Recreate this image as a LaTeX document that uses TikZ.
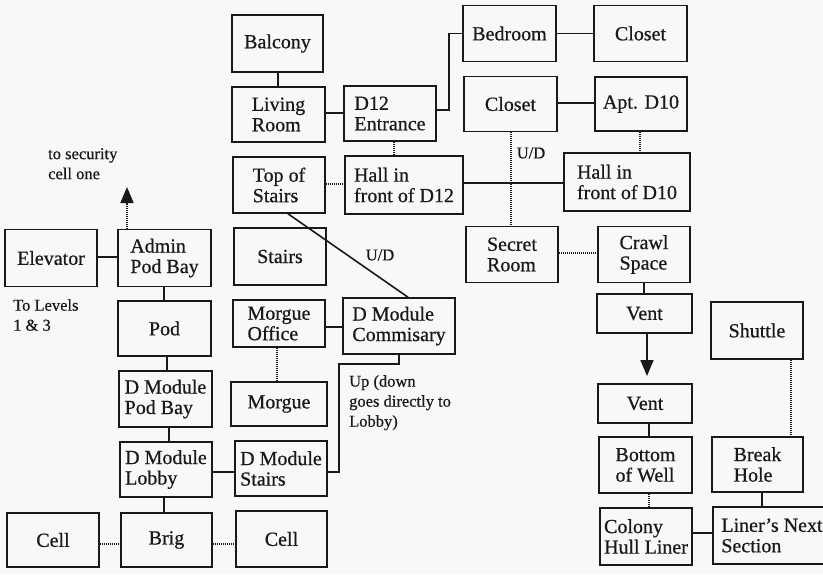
\documentclass[tikz,border=0pt]{standalone}
\usepackage{fontspec}
\setmainfont{Liberation Serif}[FakeBold=0.6]
\usetikzlibrary{arrows.meta}
\definecolor{ink}{RGB}{25,25,25}
\definecolor{paper}{RGB}{248,248,248}
\begin{document}
\begin{tikzpicture}[x=1pt,y=-1pt,
  room/.style={draw=ink, text=ink, line width=1.6pt, inner sep=0pt, align=left,
    font=\fontsize{20}{20.5}\selectfont},
  link/.style={draw=ink, line width=1.6pt},
  dotlink/.style={draw=ink, line width=1.4pt, dash pattern=on 1pt off 1pt},
  note/.style={text=ink, font=\fontsize{16.5}{20}\selectfont, align=left, inner sep=0pt},
  tip/.style={-{Triangle[width=13pt,length=16pt]}}]
\useasboundingbox (0,0) rectangle (823,574);
\fill[paper] (0,0) rectangle (823,574);
\clip (0,0) rectangle (823,574);

% rooms
\node[room, minimum width=91pt, minimum height=57pt] (balcony) at (277.5,43.5) {Balcony};
\node[room, minimum width=93pt, minimum height=55pt] (living) at (278.5,114.5) {Living\\Room};
\node[room, minimum width=92pt, minimum height=55pt] (d12e) at (390,113.5) {D12\\Entrance};
\node[room, minimum width=92pt, minimum height=56pt] (tops) at (279,185) {Top of\\Stairs};
\node[room, minimum width=118pt, minimum height=58pt] (halld12) at (404,185) {Hall in\\front of D12};
\node[room, minimum width=92pt, minimum height=57pt] (elevator) at (51,258) {Elevator};
\node[room, minimum width=93pt, minimum height=57pt] (admin) at (164.5,258) {Admin\\Pod Bay};
\node[room, minimum width=92pt, minimum height=57pt] (stairs) at (280,256.5) {Stairs};
\node[room, minimum width=93pt, minimum height=56pt] (bedroom) at (509.5,33.5) {Bedroom};
\node[room, minimum width=93pt, minimum height=56pt] (closetA) at (640.5,33.5) {Closet};
\node[room, minimum width=93pt, minimum height=55pt] (closetB) at (510.5,104) {Closet};
\node[room, minimum width=92pt, minimum height=54pt] (aptd10) at (641,104) {Apt. D10};
\node[room, minimum width=126pt, minimum height=58pt] (halld10) at (627,182) {Hall in\\front of D10};
\node[room, minimum width=92pt, minimum height=56pt] (secret) at (512,254.5) {Secret\\Room};
\node[room, minimum width=92pt, minimum height=56pt] (crawl) at (644,254.5) {Crawl\\Space};
\node[room, minimum width=93pt, minimum height=55pt] (pod) at (164.5,328.5) {Pod};
\node[room, minimum width=92pt, minimum height=47pt] (morgoff) at (279,323.5) {Morgue\\Office};
\node[room, minimum width=112pt, minimum height=56pt] (comm) at (399,326) {D Module\\Commisary};
\node[room, minimum width=93pt, minimum height=56pt] (dmpod) at (165.5,399) {D Module\\Pod Bay};
\node[room, minimum width=96pt, minimum height=44pt] (morgue) at (279,404) {Morgue};
\node[room, minimum width=92pt, minimum height=55pt] (lobby) at (166,469.5) {D Module\\Lobby};
\node[room, minimum width=92pt, minimum height=55pt] (dmstairs) at (281,468.5) {D Module\\Stairs};
\node[room, minimum width=92pt, minimum height=54pt] (cellL) at (53,540) {Cell};
\node[room, minimum width=91pt, minimum height=54pt] (brig) at (166.5,540) {Brig};
\node[room, minimum width=91pt, minimum height=56pt] (cellR) at (281.5,539) {Cell};
\node[room, minimum width=95pt, minimum height=39pt] (ventA) at (644.5,313.5) {Vent};
\node[room, minimum width=94pt, minimum height=39pt] (ventB) at (645,403.5) {Vent};
\node[room, minimum width=93pt, minimum height=56pt] (bottom) at (645.5,465) {Bottom\\of Well};
\node[room, minimum width=92pt, minimum height=57pt] (shuttle) at (757,330.5) {Shuttle};
\node[room, minimum width=91pt, minimum height=55pt] (break) at (757.5,464.5) {Break\\Hole};
\node[room, minimum width=92pt, minimum height=57pt] (colony) at (646,536.5) {Colony\\Hull Liner};
\node[room, minimum width=118pt, minimum height=57pt] (liner) at (772,535.5) {Liner's Next\\Section};

% notes
\node[note, anchor=north west] (notesec) at (48,148) {to security\\cell one};
\node[note, anchor=north west] (notelev) at (13,299) {To Levels\\1 \& 3};
\node[note, anchor=north west] (noteup) at (349,375) {Up (down\\goes directly to\\Lobby)};
\node[note] (udA) at (380,255) {U/D};
\node[note] (udB) at (531,153) {U/D};

% solid links
\draw[link] (balcony.south -| 278,0) -- (living.north -| 278,0);
\draw[link] (living.east |- 0,113) -- (d12e.west |- 0,113);
\draw[link] (d12e.east |- 0,110) -- ++(12,0) |- (bedroom.west);
\draw[link] (bedroom.east) -- (closetA.west |- bedroom.east);
\draw[link] (closetB.east |- 0,103) -- (aptd10.west |- 0,103);
\draw[link] (halld12.east |- 0,183) -- (halld10.west |- 0,183);
\draw[link] (tops.south -| 288,0) -- (comm.north -| 408,0);
\draw[link] (elevator.east |- 0,257) -- (admin.west |- 0,257);
\draw[link] (admin.south -| 164,0) -- (pod.north -| 164,0);
\draw[link] (pod.south -| 167,0) -- (dmpod.north -| 167,0);
\draw[link] (dmpod.south -| 169,0) -- (lobby.north -| 169,0);
\draw[link] (lobby.south -| 164,0) -- (brig.north -| 164,0);
\draw[link] (lobby.east |- 0,472) -- (dmstairs.west |- 0,472);
\draw[link] (dmstairs.east |- 0,472) -| (339,364) -| (comm.south -| 399,0);
\draw[link] (morgoff.east |- 0,327) -- (comm.west |- 0,327);
\draw[link] (crawl.south -| 644,0) -- (ventA.north -| 644,0);
\draw[link] (ventB.south -| 649,0) -- (bottom.north -| 649,0);
\draw[link] (colony.east |- 0,533) -- (liner.west |- 0,533);
\draw[link] (break.south -| 762,0) -- (liner.north -| 762,0);

% dotted links
\draw[dotlink] (d12e.south -| 394,0) -- (halld12.north -| 394,0);
\draw[dotlink] (tops.east |- 0,184) -- (halld12.west |- 0,184);
\draw[dotlink] (closetB.south -| 511,0) -- (secret.north -| 511,0);
\draw[dotlink] (aptd10.south -| 640,0) -- (halld10.north -| 640,0);
\draw[dotlink] (secret.east |- 0,253) -- (crawl.west |- 0,253);
\draw[dotlink] (bottom.south -| 649,0) -- (colony.north -| 649,0);
\draw[dotlink] (shuttle.south -| 791,0) -- (break.north -| 791,0);
\draw[dotlink] (morgoff.south -| 277,0) -- (morgue.north -| 277,0);
\draw[dotlink] (cellL.east |- 0,544) -- (brig.west |- 0,544);
\draw[dotlink] (brig.east |- 0,544) -- (cellR.west |- 0,544);

% arrows
\coordinate (secBase) at (127,204);
\coordinate (secTip) at (127,187);
\draw[dotlink] (admin.north -| 127,0) -- (secBase);
\draw[link, tip] (secBase) -- (secTip);
\coordinate (ventTip) at (647,376);
\draw[link, tip] (ventA.south -| 647,0) -- (ventTip);
\end{tikzpicture}
\end{document}
